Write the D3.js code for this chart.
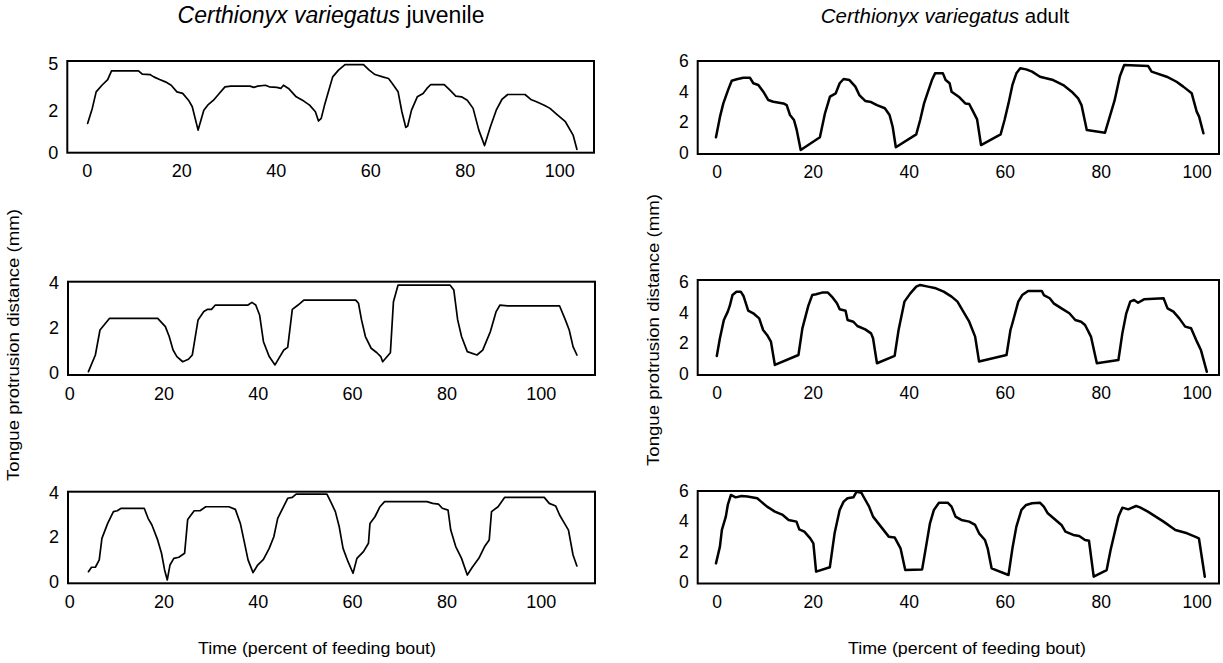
<!DOCTYPE html>
<html><head><meta charset="utf-8">
<script src="https://cdn.jsdelivr.net/npm/d3@7"></script>
<style>body{margin:0;background:#fff}svg{display:block}</style>
</head><body>
<svg id="c" width="1223" height="663"></svg>
<script>
// ---------- data ----------
const speciesName = "Certhionyx variegatus";
const columnStages = ["juvenile", "adult"];
const yAxisTitle = "Tongue protrusion distance (mm)";
const xAxisTitle = "Time (percent of feeding bout)";
const xTickValues = [0, 20, 40, 60, 80, 100];
const yTicksJuvenileTop = [0, 2.35, 5];
const yTickLabelsJuvenileTop = ["0", "2", "5"];
const yTicksJuvenile = [0, 2, 4];
const yTicksAdult = [0, 2, 4, 6];

// [time %, protrusion mm]
const juvenileTrial1 = [[0.21,1.65],[1.18,2.49],[2.0,3.42],[3.22,3.79],[4.44,4.11],[5.25,4.6],[10.96,4.6],[11.76,4.41],[13.39,4.39],[14.2,4.26],[15.43,4.11],[16.65,3.98],[17.88,3.79],[19.09,3.42],[20.31,3.33],[21.54,2.95],[22.34,2.58],[23.57,1.27],[24.78,2.39],[25.6,2.67],[26.83,2.95],[28.04,3.33],[29.26,3.7],[30.49,3.74],[34.55,3.74],[35.36,3.67],[36.18,3.74],[37.81,3.79],[38.62,3.7],[40.25,3.67],[41.07,3.61],[41.64,3.79],[42.7,3.61],[44.33,3.14],[45.94,2.9],[47.16,2.67],[48.39,2.3],[49.05,1.78],[49.62,1.93],[50.42,2.77],[51.23,3.51],[52.05,4.26],[53.28,4.64],[54.66,4.95],[58.57,4.95],[59.78,4.64],[61.0,4.39],[62.63,4.26],[63.86,4.17],[64.66,3.89],[65.89,3.42],[66.69,2.3],[67.52,1.42],[67.92,1.5],[68.73,2.39],[69.95,3.14],[71.18,3.33],[71.99,3.61],[72.81,3.83],[75.65,3.83],[76.87,3.51],[78.1,3.18],[79.31,3.14],[80.53,2.95],[81.76,2.49],[82.97,1.27],[84.19,0.4],[85.42,1.46],[86.65,2.39],[87.85,2.99],[89.08,3.27],[92.74,3.27],[93.97,2.99],[95.18,2.86],[96.81,2.67],[98.03,2.49],[99.66,2.11],[101.29,1.74],[102.92,0.99],[103.72,0.19]];

const juvenileTrial2 = [[4.08,0.06],[5.55,0.8],[6.53,1.91],[8.57,2.43],[18.77,2.43],[20.4,2.06],[21.21,1.62],[22.03,1.02],[22.84,0.73],[24.07,0.5],[25.29,0.61],[26.11,0.8],[27.33,2.36],[28.55,2.73],[29.37,2.83],[30.18,2.83],[31.0,3.02],[37.93,3.02],[38.75,3.14],[39.56,3.02],[40.38,2.58],[41.2,1.39],[42.42,0.73],[43.65,0.36],[44.46,0.65],[45.52,1.02],[46.34,1.14],[47.32,2.83],[48.54,3.02],[49.76,3.24],[60.77,3.24],[61.35,3.1],[62.0,2.36],[62.82,1.62],[64.04,1.1],[65.26,0.9],[66.08,0.73],[66.48,0.5],[67.3,0.7],[68.12,0.9],[68.77,3.17],[69.75,3.91],[80.76,3.91],[81.57,3.69],[82.39,2.36],[83.21,1.62],[84.43,0.95],[86.47,0.8],[87.7,1.02],[89.33,1.84],[90.55,2.73],[91.37,3.02],[93.0,2.98],[104.01,2.98],[105.23,2.36],[106.05,1.91],[106.86,1.17],[107.68,0.8]];

const juvenileTrial3 = [[4.08,0.44],[4.73,0.64],[5.55,0.64],[6.37,0.97],[6.94,1.94],[8.16,2.61],[9.38,3.14],[10.2,3.18],[11.02,3.29],[15.91,3.29],[16.73,2.84],[17.54,2.54],[18.76,1.87],[19.58,1.27],[20.23,0.52],[20.8,0.07],[21.37,0.74],[22.19,1.04],[23.25,1.09],[24.48,1.27],[25.13,2.79],[26.51,3.18],[27.74,3.18],[28.96,3.36],[33.86,3.36],[35.24,3.24],[36.3,2.61],[37.12,1.79],[37.93,0.97],[38.99,0.4],[39.97,0.74],[41.2,0.99],[42.42,1.49],[43.4,2.01],[44.22,2.84],[45.28,3.29],[46.34,3.74],[47.32,3.78],[48.13,3.93],[54.66,3.93],[55.63,3.51],[56.45,3.14],[57.27,2.46],[58.08,1.49],[59.14,0.89],[60.2,0.37],[61.02,1.04],[62.41,1.34],[63.47,1.72],[63.79,2.61],[64.85,2.91],[65.91,3.36],[66.89,3.59],[75.87,3.59],[77.09,3.51],[78.31,3.48],[79.13,3.29],[80.35,3.21],[80.92,2.31],[81.98,1.57],[83.21,1.04],[84.43,0.29],[85.49,0.64],[86.88,1.04],[88.1,1.57],[89.08,1.87],[89.57,3.14],[90.96,3.36],[92.34,3.78],[100.75,3.78],[101.81,3.51],[103.19,3.39],[104.01,2.99],[104.83,2.69],[105.89,2.31],[106.86,1.19],[107.68,0.7]];

const adultTrial1 = [[-0.15,1.0],[0.69,2.35],[1.38,3.22],[2.42,4.14],[3.13,4.71],[4.17,4.8],[5.55,4.9],[6.94,4.9],[7.63,4.54],[8.67,4.43],[9.71,3.99],[10.75,3.44],[11.8,3.33],[13.9,3.22],[14.58,3.11],[15.27,2.46],[16.1,2.13],[16.67,1.48],[17.5,0.16],[21.5,1.0],[22.56,2.57],[23.6,3.66],[24.8,3.88],[25.62,4.54],[26.44,4.82],[27.66,4.75],[28.89,4.32],[29.71,3.77],[30.94,3.38],[32.16,3.31],[33.39,3.11],[35.03,2.9],[36.01,2.46],[36.66,1.69],[37.32,0.34],[41.57,1.19],[42.39,2.13],[43.2,3.22],[44.02,3.99],[44.84,4.75],[45.49,5.19],[47.13,5.19],[47.7,4.75],[48.52,4.54],[48.93,3.99],[50.57,3.62],[51.79,3.22],[52.61,3.18],[53.43,2.68],[54.25,2.17],[55.07,0.49],[59.15,1.19],[59.97,2.13],[60.79,3.22],[61.61,4.43],[62.43,5.19],[63.24,5.52],[64.47,5.45],[65.7,5.3],[67.35,4.97],[70.1,4.75],[72.2,4.42],[73.96,3.99],[75.3,3.55],[76.0,3.11],[77.1,1.48],[80.9,1.3],[82.88,3.4],[84.0,5.0],[84.9,5.74],[89.9,5.67],[90.6,5.3],[93.75,4.97],[95.8,4.64],[97.2,4.32],[98.96,3.88],[100.0,2.68],[100.5,2.35],[101.4,1.26]];

const adultTrial2 = [[0.02,1.18],[0.67,2.33],[1.49,3.52],[2.31,4.07],[2.72,4.44],[3.29,5.15],[4.11,5.37],[5.01,5.37],[5.58,5.09],[6.56,4.13],[7.62,3.96],[8.85,3.63],[9.67,2.87],[10.49,2.55],[11.3,2.11],[12.12,0.59],[17.03,1.24],[17.85,2.98],[19.08,4.44],[19.9,5.15],[20.71,5.2],[21.94,5.31],[23.17,5.31],[23.98,5.05],[25.05,4.61],[25.62,4.22],[26.85,4.13],[27.26,3.52],[28.48,3.41],[29.3,3.13],[30.94,2.91],[32.16,2.65],[32.57,2.33],[33.39,0.7],[37.07,1.18],[37.89,2.87],[39.11,4.72],[40.34,5.26],[41.57,5.7],[42.39,5.81],[44.02,5.7],[45.66,5.59],[47.29,5.37],[48.93,5.05],[50.16,4.72],[51.38,4.07],[52.61,3.41],[53.84,2.44],[54.66,0.81],[60.38,1.24],[61.2,2.87],[61.61,3.31],[62.83,4.72],[63.65,5.15],[64.88,5.41],[67.74,5.41],[68.15,5.15],[69.38,4.94],[70.2,4.61],[71.83,4.28],[73.47,3.96],[74.7,3.52],[75.92,3.41],[76.74,3.2],[77.97,2.44],[79.2,0.7],[83.69,0.91],[84.51,2.65],[85.33,3.96],[86.15,4.72],[86.96,4.83],[87.78,4.65],[89.01,4.87],[93.1,4.94],[93.92,4.28],[95.15,4.07],[96.37,3.63],[97.6,3.09],[98.83,2.98],[100.05,2.11],[100.87,1.57],[102.1,0.15]];

const adultTrial3 = [[-0.15,1.23],[0.67,2.33],[1.08,3.43],[1.9,4.31],[2.31,5.08],[2.96,5.74],[3.94,5.58],[5.17,5.67],[6.4,5.63],[8.44,5.52],[9.26,5.3],[10.49,4.97],[12.12,4.64],[13.76,4.42],[14.99,4.09],[16.62,3.98],[17.2,3.47],[18.26,3.32],[19.49,2.88],[20.14,2.55],[20.71,0.68],[23.57,0.97],[24.56,3.21],[25.62,4.75],[26.44,5.3],[27.26,5.52],[28.48,5.58],[29.14,5.95],[30.12,5.89],[30.77,5.52],[31.75,4.97],[32.57,4.31],[34.21,3.65],[35.84,2.99],[37.07,2.94],[38.3,2.22],[39.28,0.79],[42.8,0.83],[43.61,2.33],[44.43,3.87],[45.25,4.75],[46.31,5.23],[48.11,5.23],[48.93,4.97],[49.75,4.31],[50.97,4.09],[52.61,3.98],[53.84,3.76],[54.66,3.21],[55.88,2.77],[56.45,2.22],[57.27,0.9],[60.79,0.46],[61.61,2.22],[62.43,3.65],[63.49,4.75],[64.47,5.08],[65.7,5.19],[67.33,5.23],[68.15,4.97],[68.97,4.53],[70.61,4.09],[71.83,3.76],[72.65,3.32],[74.29,3.1],[75.52,3.03],[76.74,2.77],[77.56,2.72],[78.54,0.35],[81.24,0.79],[82.06,2.11],[82.88,3.21],[83.7,4.31],[84.51,4.9],[85.74,4.79],[87.37,5.01],[88.19,4.92],[89.83,4.64],[91.46,4.31],[93.1,3.98],[95.55,3.43],[98.0,3.21],[99.64,2.99],[100.46,2.88],[101.69,0.35]];

// ---------- layout ----------
const panels = [
  {data: juvenileTrial1, box:{l:67.3,r:594,t:61,b:152.7}, x0:86.7, xppu:4.726, y0:152.7, yppu:17.8, yTicks:yTicksJuvenileTop, yLabels:yTickLabelsJuvenileTop, lw:1.7, fs:18},
  {data: juvenileTrial2, box:{l:68,r:595,t:281.7,b:375}, x0:69.2, xppu:4.715, y0:373, yppu:22.5, yTicks:yTicksJuvenile, yLabels:null, lw:1.7, fs:18},
  {data: juvenileTrial3, box:{l:68,r:595,t:491.7,b:583.3}, x0:69.2, xppu:4.715, y0:581.5, yppu:22.25, yTicks:yTicksJuvenile, yLabels:null, lw:1.7, fs:18},
  {data: adultTrial1, box:{l:697.7,r:1219,t:61,b:154}, x0:716.7, xppu:4.8, y0:152.5, yppu:15.25, yTicks:yTicksAdult, yLabels:null, lw:2.5, fs:17.5},
  {data: adultTrial2, box:{l:697.7,r:1219,t:280,b:375}, x0:716.7, xppu:4.8, y0:374, yppu:15.33, yTicks:yTicksAdult, yLabels:null, lw:2.5, fs:17.5},
  {data: adultTrial3, box:{l:697.7,r:1219,t:491,b:583.5}, x0:716.7, xppu:4.8, y0:582, yppu:15.17, yTicks:yTicksAdult, yLabels:null, lw:2.5, fs:17.5}
];

const FONT = "'Liberation Sans', Arial, Helvetica, sans-serif";
const svg = d3.select("#c");

panels.forEach(p => {
  const b = p.box;
  const x = d3.scaleLinear().domain([(b.l - p.x0)/p.xppu, (b.r - p.x0)/p.xppu]).range([b.l, b.r]);
  const y = d3.scaleLinear().domain([(p.y0 - b.b)/p.yppu, (p.y0 - b.t)/p.yppu]).range([b.b, b.t]);

  const g = svg.append("g");
  const xa = g.append("g").attr("transform", `translate(0,${b.b + 12})`)
    .call(d3.axisBottom(x).tickValues(xTickValues).tickSize(0).tickPadding(0).tickFormat(d3.format("d")));
  xa.select(".domain").remove();
  xa.selectAll("text").attr("font-family", FONT).attr("font-size", p.fs).attr("fill", "#000");

  const ya = g.append("g").attr("transform", `translate(${b.l - 9},0)`)
    .call(d3.axisLeft(y).tickValues(p.yTicks).tickSize(0).tickPadding(0)
      .tickFormat((d,i) => p.yLabels ? p.yLabels[i] : d3.format("d")(d)));
  ya.select(".domain").remove();
  ya.selectAll("text").attr("font-family", FONT).attr("font-size", p.fs).attr("fill", "#000");

  g.append("rect").attr("x", b.l).attr("y", b.t).attr("width", b.r - b.l).attr("height", b.b - b.t)
    .attr("fill", "none").attr("stroke", "#000").attr("stroke-width", 2);

  g.append("path").datum(p.data)
    .attr("d", d3.line().x(d => x(d[0])).y(d => y(d[1])))
    .attr("fill", "none").attr("stroke", "#000").attr("stroke-width", p.lw)
    .attr("stroke-linejoin", "round").attr("stroke-linecap", "round");
});

// column titles
const titleSpecs = [{cx: 331, fs: 23}, {cx: 945, fs: 20.5}];
columnStages.forEach((s, i) => {
  const sp = titleSpecs[i];
  const t = svg.append("text").attr("x", sp.cx).attr("y", 23).attr("text-anchor", "middle")
    .attr("font-family", FONT).attr("font-size", sp.fs).attr("fill", "#000");
  t.append("tspan").attr("font-style", "italic").text(speciesName);
  t.append("tspan").text(" " + s);
});

// x axis titles
[317, 967].forEach(cx => {
  svg.append("text").attr("x", cx).attr("y", 654).attr("text-anchor", "middle")
    .attr("font-family", FONT).attr("font-size", 17).attr("fill", "#000")
    .attr("textLength", 238).attr("lengthAdjust", "spacingAndGlyphs").text(xAxisTitle);
});

// y axis titles
[[19, 345], [659, 330]].forEach(([cx, cy]) => {
  svg.append("text").attr("transform", `translate(${cx},${cy}) rotate(-90)`).attr("text-anchor", "middle")
    .attr("font-family", FONT).attr("font-size", 16).attr("fill", "#000")
    .attr("textLength", 272).attr("lengthAdjust", "spacingAndGlyphs").text(yAxisTitle);
});
</script>
</body></html>
